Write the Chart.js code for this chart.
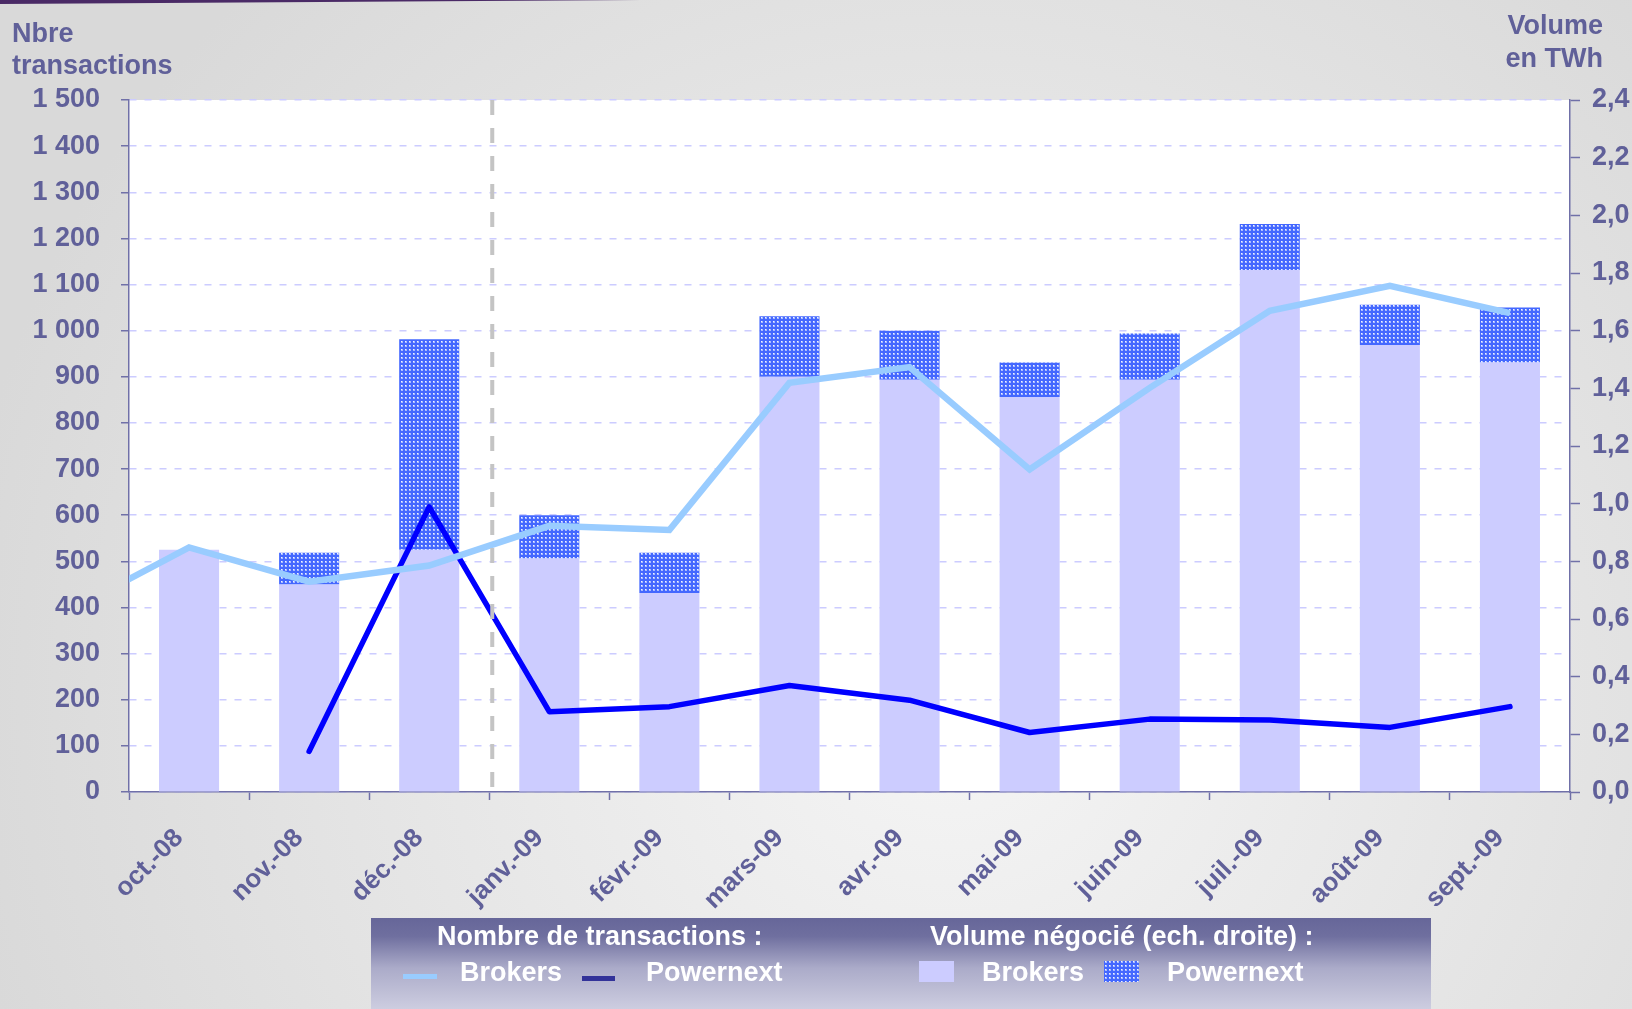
<!DOCTYPE html>
<html>
<head>
<meta charset="utf-8">
<script src="https://cdn.jsdelivr.net/npm/chart.js@4.4.0/dist/chart.umd.min.js"></script>
<style>
  html, body { margin: 0; padding: 0; background: #dcdcdc; overflow: hidden; }
  canvas { display: block; }
</style>
</head>
<body>
<canvas id="myChart" width="1632" height="1009"></canvas>
<script>
// months shown on the category axis
var months = ['oct.-08', 'nov.-08', 'déc.-08', 'janv.-09', 'févr.-09', 'mars-09',
              'avr.-09', 'mai-09', 'juin-09', 'juil.-09', 'août-09', 'sept.-09'];

// traded volume (TWh, right scale)
var volBrokers   = [0.84, 0.72, 0.84, 0.81, 0.69, 1.44, 1.43, 1.37, 1.43, 1.81, 1.55, 1.49];
var volPowernext = [0.00, 0.11, 0.73, 0.15, 0.14, 0.21, 0.17, 0.12, 0.16, 0.16, 0.14, 0.19];

// number of transactions (left scale)
var txBrokersPrev = 393; // sept.-08, only the piece entering the plot shows
var txBrokers   = [530, 456, 491, 577, 568, 887, 921, 699, 876, 1043, 1097, 1038];
var txPowernext = [null, 88, 618, 174, 185, 231, 199, 129, 158, 156, 140, 185];

var axisColor = '#7070a8';
var textColor = '#606099';
var font = '"Liberation Sans", Arial, sans-serif';

// dotted fill used for the Powernext bars
function makeDots() {
  var c = document.createElement('canvas');
  c.width = 4; c.height = 4;
  var g = c.getContext('2d');
  g.fillStyle = '#4468ff';
  g.fillRect(0, 0, 4, 4);
  g.fillStyle = '#aabcff';
  g.fillRect(1, 1, 2, 2);
  g.fillStyle = '#f2f5ff';
  g.fillRect(1, 1, 1, 1);
  return g.createPattern(c, 'repeat');
}
var dots = makeDots();

function spaced(n) {
  if (n >= 1000) return Math.floor(n / 1000) + ' ' + String(n % 1000).padStart(3, '0');
  return String(n);
}

var brokerPoints = [{x: -1, y: txBrokersPrev}];
txBrokers.forEach(function (v, i) { brokerPoints.push({x: i, y: v}); });
var powerPoints = [];
txPowernext.forEach(function (v, i) { if (v !== null) powerPoints.push({x: i, y: v}); });

var backdrop = {
  id: 'backdrop',
  beforeDraw: function (chart) {
    var c = chart.ctx, a = chart.chartArea;
    c.save();
    var g = c.createRadialGradient(950, 700, 40, 950, 700, 1000);
    g.addColorStop(0, '#f4f4f4');
    g.addColorStop(1, '#d9d9d9');
    c.fillStyle = g;
    c.fillRect(0, 0, chart.width, chart.height);
    c.fillStyle = '#4a2a66';
    c.beginPath();
    c.moveTo(0, 0); c.lineTo(640, 0); c.lineTo(0, 4); c.closePath();
    c.fill();
    c.fillStyle = '#ffffff';
    c.fillRect(a.left, a.top, a.right - a.left, a.bottom - a.top);
    c.restore();
  },
  afterDatasetsDraw: function (chart) {
    // dashed separator between 2008 and 2009
    var c = chart.ctx, a = chart.chartArea;
    var x = chart.scales.xl.getPixelForValue(2.5) + 3;
    c.save();
    c.strokeStyle = '#c4c4c4';
    c.lineWidth = 4;
    c.setLineDash([15, 13]);
    c.beginPath();
    c.moveTo(x, a.top);
    c.lineTo(x, a.bottom);
    c.stroke();
    c.restore();
  },
  afterDraw: function (chart) {
    var c = chart.ctx;
    c.save();
    c.font = 'bold 27px ' + font;
    c.fillStyle = textColor;
    c.textAlign = 'left';
    c.fillText('Nbre', 12, 42);
    c.fillText('transactions', 12, 74);
    c.textAlign = 'right';
    c.fillText('Volume', 1603, 34);
    c.fillText('en TWh', 1603, 67);

    // legend box
    var lg = c.createLinearGradient(0, 918, 0, 1009);
    lg.addColorStop(0, '#666699');
    lg.addColorStop(0.2, '#6f6f9f');
    lg.addColorStop(0.55, '#ababc9');
    lg.addColorStop(1, '#cdcde0');
    c.fillStyle = lg;
    c.fillRect(371, 918, 1060, 91);
    c.textAlign = 'left';
    c.fillStyle = '#ffffff';
    c.fillText('Nombre de transactions :', 437, 945);
    c.fillText('Volume négocié (ech. droite) :', 930, 945);
    c.fillText('Brokers', 460, 981);
    c.fillText('Powernext', 646, 981);
    c.fillText('Brokers', 982, 981);
    c.fillText('Powernext', 1167, 981);
    c.fillStyle = '#99ccff';
    c.fillRect(403, 974, 34, 5);
    c.fillStyle = '#333399';
    c.fillRect(582, 976, 33, 5);
    c.fillStyle = '#ccccff';
    c.fillRect(919, 961, 35, 21);
    c.fillStyle = dots;
    c.fillRect(1104, 961, 35, 21);
    c.restore();
  }
};

var ctx = document.getElementById('myChart').getContext('2d');
var chart = new Chart(ctx, {
  type: 'bar',
  data: {
    labels: months,
    datasets: [{
      type: 'line',
      label: 'Brokers',
      xAxisID: 'xl',
      yAxisID: 'y',
      data: brokerPoints,
      borderColor: '#99ccff',
      borderWidth: 6.5,
      pointRadius: 0,
      tension: 0,
      borderCapStyle: 'butt'
    }, {
      type: 'line',
      label: 'Powernext',
      xAxisID: 'xl',
      yAxisID: 'y',
      data: powerPoints,
      borderColor: '#0000ff',
      borderWidth: 5.5,
      pointRadius: 0,
      tension: 0,
      borderCapStyle: 'round',
      borderJoinStyle: 'round'
    }, {
      label: 'Brokers',
      xAxisID: 'x',
      yAxisID: 'y2',
      data: volBrokers,
      backgroundColor: '#ccccff',
      grouped: false,
      barPercentage: 0.5,
      categoryPercentage: 1
    }, {
      label: 'Powernext',
      xAxisID: 'x',
      yAxisID: 'y2',
      data: volPowernext,
      backgroundColor: dots,
      grouped: false,
      barPercentage: 0.5,
      categoryPercentage: 1
    }]
  },
  options: {
    responsive: false,
    animation: false,
    devicePixelRatio: 1,
    layout: { padding: { top: 100, left: 0, right: 0, bottom: 0 } },
    plugins: { legend: { display: false }, tooltip: { enabled: false } },
    scales: {
      x: {
        stacked: true,
        offset: true,
        afterFit: function (s) { s.height = 217; },
        grid: { offset: true, drawOnChartArea: false, drawTicks: true, tickLength: 8, tickColor: axisColor, tickWidth: 1.5 },
        border: { display: true, color: axisColor, width: 1.5 },
        ticks: { color: textColor, font: { family: font, size: 26, weight: 'bold' }, maxRotation: 45, minRotation: 45, padding: 23, labelOffset: -10 }
      },
      xl: {
        type: 'linear',
        axis: 'x',
        position: 'bottom',
        display: false,
        offset: false,
        grid: { offset: false },
        min: -0.5,
        max: 11.5
      },
      y: {
        position: 'left',
        min: 0,
        max: 1500,
        afterFit: function (s) { s.width = 129; },
        grid: { color: '#ccccff', lineWidth: 1.5, tickLength: 8, tickColor: axisColor, tickWidth: 1.5, tickBorderDash: [] },
        border: { display: true, color: axisColor, width: 1.5, dash: [7, 8] },
        ticks: {
          stepSize: 100,
          padding: 21,
          color: textColor,
          font: { family: font, size: 27, weight: 'bold' },
          callback: function (v) { return spaced(v); }
        }
      },
      y2: {
        position: 'right',
        stacked: true,
        min: 0,
        max: 2.4,
        afterFit: function (s) { s.width = 62; },
        grid: { drawOnChartArea: false, tickLength: 10, tickColor: axisColor, tickWidth: 1.5 },
        border: { display: true, color: axisColor, width: 1.5 },
        ticks: {
          stepSize: 0.2,
          padding: 12,
          color: textColor,
          font: { family: font, size: 27, weight: 'bold' },
          callback: function (v) { return v.toFixed(1).replace('.', ','); }
        }
      }
    }
  },
  plugins: [backdrop]
});
</script>
</body>
</html>
